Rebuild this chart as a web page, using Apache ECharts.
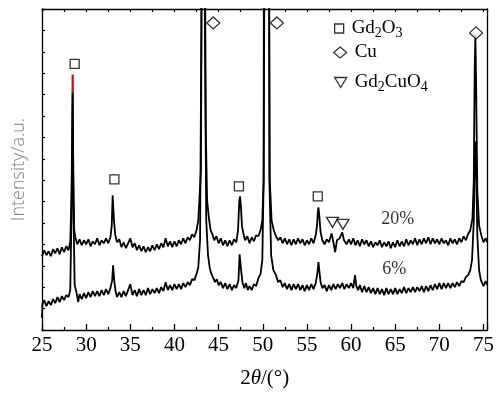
<!DOCTYPE html>
<html>
<head>
<meta charset="utf-8">
<script src="https://cdn.jsdelivr.net/npm/echarts@6/dist/echarts.min.js"></script>
<style>
  html, body { margin: 0; padding: 0; background: #fff; }
  #chart { width: 497px; height: 394px; }
</style>
</head>
<body>
<div id="chart"></div>
<script>
// 2θ / intensity (a.u.), 20% sample
const xrd20 = [
  [25.00,74],[25.25,80],[25.50,75],[25.75,79],[26.00,74],[26.25,81],[26.50,77],[26.75,82],[27.00,76],[27.25,83],
  [27.50,78],[27.75,84],[28.00,80],[28.20,88],[28.35,140],[28.465,238],[28.47,256],[28.475,238],[28.55,150],[28.65,100],
  [28.80,92],[29.00,86],[29.25,91],[29.50,85],[29.75,90],[30.00,86],[30.25,91],[30.50,84],[30.75,89],[31.00,86],
  [31.25,92],[31.50,85],[31.75,90],[32.00,87],[32.25,92],[32.50,87],[32.75,93],[32.90,105],[33.00,135],[33.05,136],
  [33.15,110],[33.30,95],[33.50,88],[33.75,91],[34.00,83],[34.25,88],[34.50,82],[34.75,87],[35.00,92],[35.25,83],
  [35.50,87],[35.75,80],[36.00,85],[36.25,79],[36.50,84],[36.75,78],[37.00,83],[37.25,79],[37.50,85],[37.75,80],
  [38.00,86],[38.25,81],[38.50,87],[38.75,83],[39.00,92],[39.25,84],[39.50,89],[39.75,83],[40.00,89],[40.25,84],
  [40.50,90],[40.75,86],[41.00,92],[41.25,87],[41.50,93],[41.75,90],[42.00,96],[42.25,93],[42.50,100],[42.70,110],
  [42.85,112],[43.00,160],[43.10,400],[43.20,1500],[43.35,1500],[43.45,400],[43.55,200],[43.70,130],[43.90,112],[44.10,100],
  [44.30,96],[44.50,90],[44.75,94],[45.00,87],[45.25,92],[45.50,85],[45.75,90],[46.00,84],[46.25,90],[46.50,85],
  [46.75,91],[47.00,88],[47.20,100],[47.35,130],[47.43,134],[47.52,125],[47.65,104],[47.85,95],[48.00,90],[48.25,94],
  [48.50,87],[48.75,93],[49.00,89],[49.25,95],[49.50,94],[49.75,100],[49.95,110],[50.10,150],[50.25,500],[50.35,1500],
  [50.55,1500],[50.65,500],[50.80,150],[51.00,110],[51.25,100],[51.50,94],[51.75,90],[52.00,93],[52.25,87],[52.50,92],
  [52.75,86],[53.00,91],[53.25,85],[53.50,91],[53.75,86],[54.00,92],[54.25,87],[54.50,91],[54.75,85],[55.00,90],
  [55.25,86],[55.50,92],[55.75,87],[56.00,95],[56.15,105],[56.25,120],[56.31,123],[56.40,115],[56.55,98],[56.75,90],
  [57.00,86],[57.25,91],[57.50,88],[57.80,97],[58.00,88],[58.20,78],[58.40,90],[58.70,92],[59.00,98],[59.20,90],
  [59.50,86],[59.75,91],[60.00,86],[60.25,92],[60.50,85],[60.75,90],[61.00,84],[61.25,91],[61.50,86],[61.75,90],
  [62.00,84],[62.25,89],[62.50,83],[62.75,88],[63.00,85],[63.25,90],[63.50,83],[63.75,88],[64.00,84],[64.25,89],
  [64.50,82],[64.75,88],[65.00,83],[65.25,90],[65.50,84],[65.75,89],[66.00,84],[66.25,91],[66.50,85],[66.75,90],
  [67.00,86],[67.25,92],[67.50,85],[67.75,91],[68.00,86],[68.25,92],[68.50,87],[68.75,93],[69.00,86],[69.25,92],
  [69.50,87],[69.75,91],[70.00,86],[70.25,92],[70.50,87],[70.75,90],[71.00,85],[71.25,92],[71.50,87],[71.75,91],
  [72.00,86],[72.25,92],[72.50,88],[72.75,94],[73.00,90],[73.25,96],[73.50,100],[73.75,112],[73.90,150],[74.00,260],
  [74.08,297],[74.16,250],[74.30,140],[74.50,105],[74.75,95],[75.00,88],[75.25,92],[75.45,88]
];

// 6% sample
const xrd6 = [
  [25.00,12],[25.05,26],[25.25,30],[25.50,24],[25.75,29],[26.00,25],[26.25,31],[26.50,27],[26.75,33],[27.00,28],
  [27.25,34],[27.50,30],[27.75,35],[28.00,33],[28.20,40],[28.35,120],[28.47,238],[28.58,110],[28.70,45],[28.90,38],
  [29.10,28],[29.25,36],[29.50,31],[29.75,37],[30.00,32],[30.25,38],[30.50,33],[30.75,39],[31.00,34],[31.25,39],
  [31.50,34],[31.75,40],[32.00,35],[32.25,41],[32.50,36],[32.75,42],[32.95,50],[33.05,65],[33.12,63],[33.20,48],
  [33.35,38],[33.50,33],[33.75,38],[34.00,33],[34.25,39],[34.50,34],[34.75,40],[35.00,46],[35.25,35],[35.50,40],
  [35.75,34],[36.00,41],[36.25,35],[36.50,40],[36.75,35],[37.00,42],[37.25,36],[37.50,41],[37.75,37],[38.00,42],
  [38.25,37],[38.50,43],[38.75,39],[39.00,48],[39.25,40],[39.50,45],[39.75,40],[40.00,46],[40.25,41],[40.50,46],
  [40.75,41],[41.00,47],[41.25,43],[41.50,48],[41.75,45],[42.00,51],[42.25,50],[42.50,56],[42.70,63],[42.90,90],
  [43.05,300],[43.15,1500],[43.35,1500],[43.45,300],[43.60,110],[43.80,75],[44.00,62],[44.20,56],[44.40,52],[44.60,48],
  [44.80,51],[45.00,45],[45.25,48],[45.50,42],[45.75,47],[46.00,41],[46.25,46],[46.50,40],[46.75,45],[47.00,42],
  [47.25,50],[47.38,76],[47.45,78],[47.55,60],[47.70,48],[47.90,42],[48.10,47],[48.30,40],[48.50,44],[48.75,40],
  [49.00,46],[49.25,44],[49.50,52],[49.75,56],[49.95,70],[50.10,150],[50.25,1500],[50.60,1500],[50.75,150],[50.95,75],
  [51.20,60],[51.50,55],[51.75,48],[52.00,50],[52.25,43],[52.50,47],[52.75,41],[53.00,46],[53.25,40],[53.50,46],
  [53.75,41],[54.00,46],[54.25,40],[54.50,45],[54.75,39],[55.00,45],[55.25,40],[55.50,46],[55.75,41],[56.00,47],
  [56.20,58],[56.31,68],[56.40,60],[56.55,48],[56.75,42],[57.00,45],[57.25,39],[57.50,45],[57.75,40],[58.00,46],
  [58.25,41],[58.50,46],[58.75,42],[59.00,47],[59.25,41],[59.50,46],[59.75,42],[60.00,47],[60.25,42],[60.45,55],
  [60.60,44],[60.80,40],[61.00,45],[61.25,38],[61.50,44],[61.75,38],[62.00,43],[62.25,37],[62.50,42],[62.75,36],
  [63.00,42],[63.25,36],[63.50,41],[63.75,35],[64.00,42],[64.25,36],[64.50,41],[64.75,36],[65.00,42],[65.25,36],
  [65.50,41],[65.75,37],[66.00,43],[66.25,37],[66.50,42],[66.75,38],[67.00,43],[67.25,38],[67.50,43],[67.75,39],
  [68.00,44],[68.25,38],[68.50,44],[68.75,39],[69.00,45],[69.25,40],[69.50,46],[69.75,41],[70.00,47],[70.25,41],
  [70.50,47],[70.75,42],[71.00,47],[71.25,42],[71.50,47],[71.75,43],[72.00,48],[72.25,44],[72.50,49],[72.75,48],
  [73.00,53],[73.25,55],[73.50,60],[73.70,70],[73.90,110],[74.00,170],[74.08,189],[74.16,165],[74.30,95],[74.50,60],
  [74.70,50],[75.00,44],[75.25,49],[75.45,45]
];

// phase markers above the peaks
const gd2o3Marks = [[28.7, 267], [33.2, 151], [47.3, 144], [56.23, 134]];
const cuMarks = [[44.4, 308], [51.6, 308], [74.16, 298]];
const gd2cuo4Marks = [[57.9, 108], [59.08, 106]];

// sample labels
const sampleLabels = [
  { name: "20%", value: [65.3, 111] },
  { name: "6%", value: [64.9, 61] }
];

const xTicks = { min: 25, max: 75.45, step: 5 };
const yMax = 322;

// top of the strongest Gd2O3 peak is drawn in red
const redTip = xrd20.filter(p => p[0] >= 28.46 && p[0] <= 28.48);

const serif = "Liberation Serif";

// Gd2O3 -> Gd + sub(2) + O + sub(3)
const subFmt = name =>
  "{g| }" + name.replace(/([A-Za-z]+)(\d?)/g, (m, a, d) => "{n|" + a + "}" + (d ? "{s|" + d + "}" : ""));

const legendRich = {
  g: { width: 3, fontSize: 19 },
  n: { fontFamily: serif, fontSize: 19, color: "#000" },
  s: { fontFamily: serif, fontSize: 14, color: "#000", padding: [9, 0, 0, 0] }
};

const hollow = { color: "#fff", borderColor: "#000", borderWidth: 1.3 };
const downTri = "path://M0,0L12,0L6,10Z";

const chart = echarts.init(document.getElementById("chart"));

const option = {
  animation: false,
  grid: { left: 42, right: 5, top: 9, bottom: 63, containLabel: false },
  legend: [
    {
      data: [{ name: "Gd2O3", icon: "rect", itemStyle: hollow }],
      left: 334, top: 19, padding: 0, itemWidth: 9, itemHeight: 9, selectedMode: false,
      formatter: subFmt, textStyle: { rich: legendRich }
    },
    {
      data: [{ name: "Cu", icon: "diamond", itemStyle: hollow }],
      left: 333, top: 43, padding: 0, itemWidth: 13, itemHeight: 11, selectedMode: false,
      formatter: subFmt, textStyle: { rich: legendRich }
    },
    {
      data: [{ name: "Gd2CuO4", icon: downTri, itemStyle: hollow }],
      left: 334, top: 73, padding: 0, itemWidth: 12, itemHeight: 10, selectedMode: false,
      formatter: subFmt, textStyle: { rich: legendRich }
    }
  ],
  xAxis: [
    {
      type: "value",
      min: xTicks.min,
      max: xTicks.max,
      interval: xTicks.step,
      position: "bottom",
      name: "{n|2}{i|θ}{n|/(°)}",
      nameLocation: "middle",
      nameGap: 38,
      nameTextStyle: {
        rich: {
          n: { fontFamily: serif, fontSize: 21, color: "#000" },
          i: { fontFamily: serif, fontSize: 21, fontStyle: "italic", color: "#000" }
        }
      },
      axisLine: { show: true, onZero: false, lineStyle: { color: "#000", width: 1.3 } },
      axisTick: { show: true, inside: true, length: 6, lineStyle: { color: "#000", width: 1.3 } },
      minorTick: { show: true, splitNumber: 2, length: 3, lineStyle: { color: "#000", width: 1.2 } },
      axisLabel: {
        fontFamily: serif,
        fontSize: 21,
        color: "#000",
        margin: 5,
        formatter: v => (Math.abs(v % 5) < 1e-6 ? String(v) : "")
      },
      splitLine: { show: false }
    },
    {
      type: "value",
      min: xTicks.min,
      max: xTicks.max,
      interval: 2.5,
      position: "top",
      axisLine: { show: true, onZero: false, lineStyle: { color: "#000", width: 1.3 } },
      axisTick: { show: true, inside: true, length: 3, lineStyle: { color: "#000", width: 1.2 } },
      axisLabel: { show: false },
      splitLine: { show: false }
    }
  ],
  yAxis: [
    {
      type: "value",
      min: 0,
      max: yMax,
      interval: yMax / 15,
      name: "Intensity/a.u.",
      nameLocation: "middle",
      nameGap: 14,
      nameTextStyle: { fontFamily: "Open Sans", fontSize: 18, fontWeight: 300, color: "#808080" },
      axisLine: { show: true, onZero: false, lineStyle: { color: "#000", width: 1.3 } },
      axisTick: { show: true, inside: true, length: 3, lineStyle: { color: "#000", width: 1.2 } },
      axisLabel: { show: false },
      splitLine: { show: false }
    },
    {
      type: "value",
      min: 0,
      max: yMax,
      position: "right",
      axisLine: { show: true, onZero: false, lineStyle: { color: "#000", width: 1.3 } },
      axisTick: { show: false },
      axisLabel: { show: false },
      splitLine: { show: false }
    }
  ],
  series: [
    {
      name: "20%", type: "line", data: xrd20, showSymbol: false, symbol: "none",
      lineStyle: { color: "#000", width: 1.8 }, clip: true, silent: true
    },
    {
      name: "6%", type: "line", data: xrd6, showSymbol: false, symbol: "none",
      lineStyle: { color: "#000", width: 1.8 }, clip: true, silent: true
    },
    {
      name: "tip", type: "line", data: redTip, showSymbol: false, symbol: "none",
      lineStyle: { color: "#ff0000", width: 1.5 }, z: 3, silent: true
    },
    {
      name: "Gd2O3", type: "scatter", data: gd2o3Marks, symbol: "rect",
      symbolSize: 9, itemStyle: hollow, z: 5
    },
    {
      name: "Cu", type: "scatter", data: cuMarks, symbol: "diamond",
      symbolSize: [13, 12], itemStyle: hollow, z: 5
    },
    {
      name: "Gd2CuO4", type: "scatter", data: gd2cuo4Marks, symbol: downTri,
      symbolSize: [12, 10], itemStyle: hollow, z: 5
    },
    {
      name: "labels", type: "scatter", data: sampleLabels, symbolSize: 0,
      label: {
        show: true, position: "inside", formatter: "{b}",
        fontFamily: serif, fontSize: 18, color: "#000"
      },
      silent: true
    }
  ]
};

chart.setOption(option);

window.addEventListener("resize", () => chart.resize());
</script>
</body>
</html>
